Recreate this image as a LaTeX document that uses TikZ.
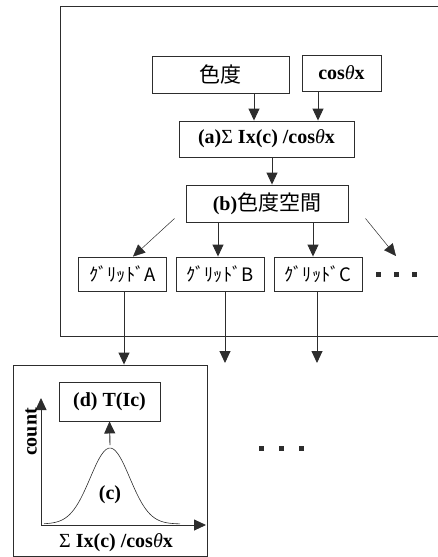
\documentclass[tikz,border=0pt]{standalone}
\usepackage{fontspec}
\setmainfont{Liberation Serif}
\newfontfamily\jpfont{Noto Sans CJK JP}
\usetikzlibrary{arrows.meta,positioning}
\definecolor{lineink}{RGB}{45,45,45}
\newcommand{\thx}{{\mdseries\itshape θ}x}

\begin{document}
\begin{tikzpicture}[x=1pt, y=-1pt,
    box/.style={rectangle, draw=lineink, line width=0.9pt, inner sep=0pt, font=\fontsize{20}{22}\selectfont\bfseries},
    gridbox/.style={box, minimum width=88pt, minimum height=34pt, font=\jpfont\fontsize{18.5}{20}\selectfont},
    lbl/.style={inner sep=0pt, font=\fontsize{20}{22}\selectfont\bfseries},
    frame/.style={draw=lineink, line width=0.9pt},
    arr/.style={-{Triangle[length=12pt,width=11pt]}, line width=0.9pt, color=lineink},
    slant/.style={-{Triangle[length=12pt,width=11pt]}, line width=0.5pt, color=lineink}
  ]
  \useasboundingbox (0,0) rectangle (437,557);

  % outer frame (runs off the right edge)
  \draw[frame] (445,6) -| (60,336) -- (445,336);

  % inputs
  \node[box, minimum width=137pt, minimum height=37pt, font=\jpfont\fontsize{21}{23}\selectfont] (chroma) at (220.5,74.5) {色度};
  \node[box, minimum width=79pt, minimum height=36pt] (cosx) at (341.5,73) {cos\thx};

  % (a) and (b)
  \node[box, minimum width=175pt, minimum height=36pt] (sumx) at (266.5,139) {(a){\mdseries Σ} Ix(c) /cos\thx};
  \node[box, minimum width=162pt, minimum height=37pt] (space) at (267,203.5) {(b){\mdseries\jpfont\fontsize{21}{23}\selectfont 色度空間}};

  % grids
  \node[gridbox] (gridA) at (122.5,274) {ｸﾞﾘｯﾄﾞA};
  \node[gridbox] (gridB) at (220,274) {ｸﾞﾘｯﾄﾞB};
  \node[gridbox] (gridC) at (318,274) {ｸﾞﾘｯﾄﾞC};
  \coordinate (moreA) at (396,274);
  \foreach \dx in {-18,0,18}
    \fill[lineink] ([xshift=\dx pt]moreA) +(-2.5,-2.5) rectangle +(2.5,2.5);

  % histogram panel
  \node[box, minimum width=194pt, minimum height=191pt] (hist) at (110,460.5) {};
  \node[box, minimum width=101pt, minimum height=39pt] (thresh) at (109.5,401.5) {(d) T(Ic)};
  \coordinate (orig) at (41,525);
  \coordinate (peak) at (110,445);
  \draw[arr] (orig) -- (41,398);
  \draw[arr] (orig) -- (206,525);
  \draw[line width=0.6pt, color=lineink, smooth, domain=44:180, samples=60]
    plot (\x, {524-76*exp(-((\x-110)/28)^2)});
  \node[lbl, rotate=90] (count) at (31,432) {count};
  \node[lbl] (curve) at (110,495) {(c)};
  \node[lbl] (xlab) at (116,543) {{\mdseries Σ} Ix(c) /cos\thx};
  \draw[arr] (peak) -- (thresh.south);

  \coordinate (moreB) at (281,448);
  \foreach \dx in {-20,0,20}
    \fill[lineink] ([xshift=\dx pt]moreB) +(-2.5,-2.5) rectangle +(2.5,2.5);

  % connectors
  \draw[arr] ([xshift=33.5pt]chroma.south) -- ([xshift=33.5pt]chroma.south |- sumx.north);
  \draw[arr] ([xshift=-23.5pt]cosx.south) -- ([xshift=-23.5pt]cosx.south |- sumx.north);
  \draw[arr] ([xshift=5.5pt]sumx.south) -- ([xshift=5.5pt]sumx.south |- space.north);
  \draw[slant] ([shift={(-11,-4)}]space.south west) -- ([xshift=10.5pt]gridA.north);
  \draw[arr] ([xshift=-2pt]gridB.north |- space.south) -- ([xshift=-2pt]gridB.north);
  \draw[arr] ([xshift=-5pt]gridC.north |- space.south) -- ([xshift=-5pt]gridC.north);
  \draw[slant] ([shift={(17,-4)}]space.south east) -- ([yshift=18pt]moreA);

  \coordinate (downB) at (225,363);
  \coordinate (downC) at (317,363);
  \draw[arr] ([xshift=1.5pt]gridA.south) -- ([xshift=1.5pt]gridA.south |- hist.north);
  \draw[arr] ([xshift=5pt]gridB.south) -- (downB);
  \draw[arr] ([xshift=-1pt]gridC.south) -- (downC);
\end{tikzpicture}
\end{document}
